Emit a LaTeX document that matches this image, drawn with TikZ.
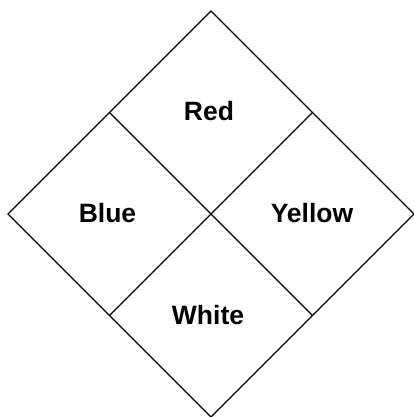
\documentclass[tikz,border=0pt]{standalone}
\usepackage{fontspec}
\setmainfont{Liberation Sans}
\usetikzlibrary{calc}
\tikzset{
  edge/.style={black,line width=1.2pt,line join=miter},
  field/.style={font=\fontsize{26.5}{30}\selectfont\bfseries,inner sep=0pt},
}

\begin{document}
\begin{tikzpicture}[x=1pt,y=1pt]
  \useasboundingbox (0,0) rectangle (414,417);
  \def\R{203}
  \coordinate (C) at (211,203);
  \coordinate (T) at ($(C)+(0,\R)$);
  \coordinate (L) at ($(C)+(-\R,0)$);
  \coordinate (Rt) at ($(C)+(\R,0)$);
  \coordinate (B) at ($(C)+(0,-\R)$);
  \coordinate (TL) at ($(T)!0.5!(L)$);
  \coordinate (TR) at ($(T)!0.5!(Rt)$);
  \coordinate (BL) at ($(B)!0.5!(L)$);
  \coordinate (BR) at ($(B)!0.5!(Rt)$);
  
  % DIAMOND
  \draw[edge] (T) -- (Rt) -- (B) -- (L) -- cycle;
  \draw[edge] (TL) -- (BR);
  \draw[edge] (TR) -- (BL);
  
  % FIELDS
  \node[field] (red)    at ($(C)+(-2,103)$)   {Red};
  \node[field] (blue)   at ($(C)+(-103.5,1)$) {Blue};
  \node[field] (yellow) at ($(C)+(101,1)$)    {Yellow};
  \node[field] (white)  at ($(C)+(-3,-101)$)  {White};
  
\end{tikzpicture}
\end{document}
